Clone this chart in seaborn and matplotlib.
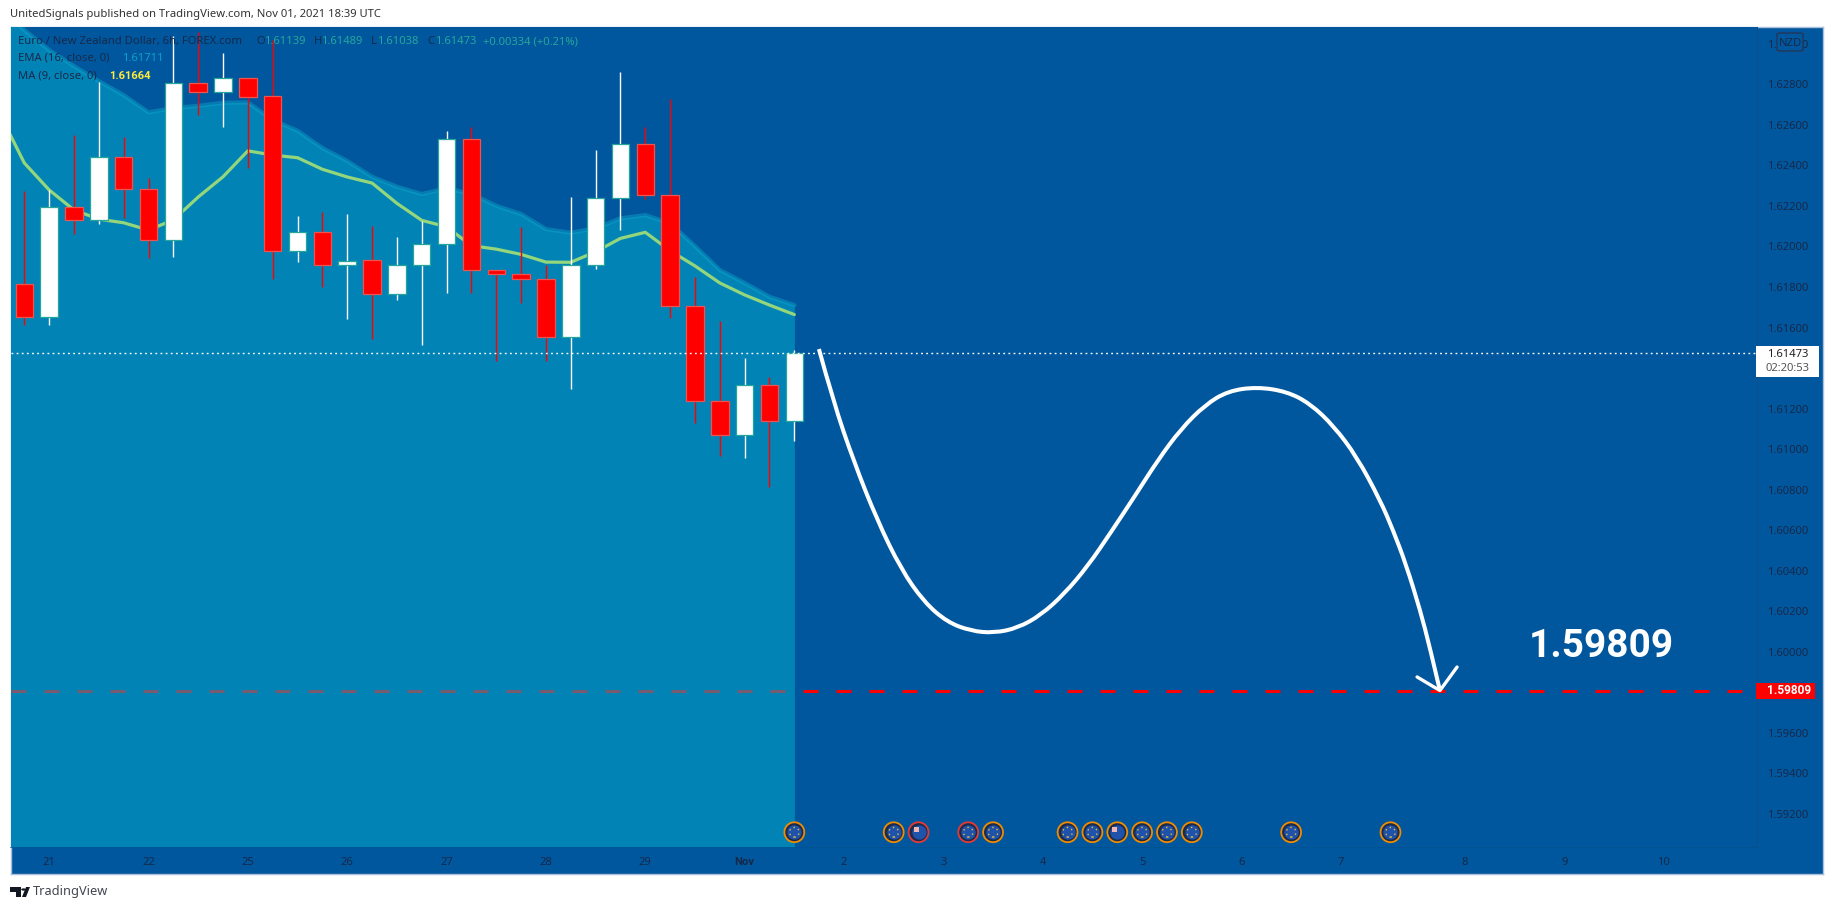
#%%
import numpy as np
import pandas as pd
import seaborn as sns
from matplotlib import pyplot as plt
from matplotlib.path import Path
from matplotlib.patches import Rectangle, FancyBboxPatch, Polygon, Circle, PathPatch

# %%
opens = [1.61813, 1.61650, 1.62193, 1.62129, 1.62440, 1.62282, 1.62030, 1.62805, 1.62763, 1.62830, 1.62741,
         1.61976, 1.62070, 1.61907, 1.61932, 1.61764, 1.61907, 1.62011, 1.62529, 1.61882, 1.61862, 1.61842,
         1.61552, 1.61910, 1.62238, 1.62504, 1.62256, 1.61704, 1.61240, 1.61071, 1.61315, 1.61139]
highs = [1.62272, 1.62279, 1.62550, 1.62813, 1.62540, 1.62338, 1.63038, 1.63060, 1.62956, 1.62830, 1.63019,
         1.62150, 1.62170, 1.62160, 1.62101, 1.62047, 1.62126, 1.62570, 1.62588, 1.61882, 1.62096, 1.61907,
         1.62244, 1.62476, 1.62859, 1.62588, 1.62726, 1.61848, 1.61631, 1.61450, 1.61356, 1.61489]
lows = [1.61613, 1.61613, 1.62063, 1.62112, 1.62142, 1.61945, 1.61950, 1.62649, 1.62591, 1.62389, 1.61841,
        1.61925, 1.61802, 1.61644, 1.61544, 1.61736, 1.61515, 1.61772, 1.61772, 1.61435, 1.61723, 1.61435,
        1.61298, 1.61890, 1.62081, 1.62233, 1.61649, 1.61131, 1.60968, 1.60958, 1.60815, 1.61038]
closes = [1.61650, 1.62193, 1.62129, 1.62440, 1.62282, 1.62030, 1.62805, 1.62763, 1.62830, 1.62739, 1.61976,
          1.62070, 1.61907, 1.61930, 1.61764, 1.61907, 1.62011, 1.62529, 1.61882, 1.61862, 1.61842, 1.61552,
          1.61910, 1.62238, 1.62504, 1.62256, 1.61704, 1.61240, 1.61071, 1.61315, 1.61139, 1.61473]

# first value belongs to the bar just left of the pane
ma9 = [1.62658, 1.62412, 1.62279, 1.62180, 1.62135, 1.62117, 1.62081, 1.62131, 1.62244, 1.62344, 1.62472,
       1.62451, 1.62438, 1.62381, 1.62343, 1.62313, 1.62213, 1.62129, 1.62097, 1.62004, 1.61987, 1.61961,
       1.61923, 1.61922, 1.61974, 1.62040, 1.62070, 1.61979, 1.61904, 1.61820, 1.61761, 1.61711, 1.61664]
ema16 = [1.63186, 1.63068, 1.62969, 1.62890, 1.62816, 1.62747, 1.62662, 1.62683, 1.62694, 1.62709, 1.62711,
         1.62624, 1.62571, 1.62486, 1.62422, 1.62344, 1.62295, 1.62259, 1.62287, 1.62259, 1.62201, 1.62160,
         1.62086, 1.62068, 1.62090, 1.62139, 1.62155, 1.62114, 1.62002, 1.61884, 1.61820, 1.61752, 1.61711]

# hand drawn forecast
curve_bars = [31.99, 32.56, 33.40, 34.33, 35.29, 36.22, 37.15, 38.11, 39.04, 40.00, 40.93, 41.86, 42.82, 43.75,
              44.71, 45.64, 46.56, 47.53, 48.46, 49.63, 50.83, 51.76, 52.72, 53.65, 54.58, 55.10, 55.62, 56.19, 56.59, 56.99]
curve_prices = [1.61494, 1.61238, 1.60937, 1.60651, 1.60409, 1.60246, 1.60147, 1.60103, 1.60093, 1.60118, 1.60182,
                1.60285, 1.60424, 1.60591, 1.60769, 1.60947, 1.61099, 1.61218, 1.61287, 1.61307, 1.61284, 1.61225,
                1.61114, 1.60961, 1.60749, 1.60601, 1.60433, 1.60207, 1.60019, 1.59809]
arrow_bars = [56.07, 56.99, 57.68]
arrow_prices = [1.59876, 1.59809, 1.59925]

target_price = 1.59809
last_price = 1.61473

price_ticks = [1.630, 1.628, 1.626, 1.624, 1.622, 1.620, 1.618, 1.616, 1.614, 1.612, 1.610, 1.608,
               1.606, 1.604, 1.602, 1.600, 1.596, 1.594, 1.592]
time_ticks = [1, 5, 9, 13, 17, 21, 25, 29, 33, 37, 41, 45, 49, 53, 58, 62, 66]
time_labels = ['21', '22', '25', '26', '27', '28', '29', 'Nov', '2', '3', '4', '5', '6', '7', '8', '9', '10']

event_bars = [31, 35, 36, 38, 39, 42, 43, 44, 45, 46, 47, 51, 55]
event_flags = ['EU', 'EU', 'NZ', 'EU', 'EU', 'EU', 'EU', 'NZ', 'EU', 'EU', 'EU', 'EU', 'EU']
event_rings = ['o', 'o', 'r', 'r', 'o', 'o', 'o', 'o', 'o', 'o', 'o', 'o', 'o']

#%%
W, H = 1834, 910
BG = '#01579d'
DARK = '#16294a'
GREEN = '#26a69a'
BOLD = ['Roboto', 'Liberation Sans', 'DejaVu Sans']

sns.set_theme(style='white')
plt.rcParams['font.family'] = ['Noto Sans', 'DejaVu Sans']

def fx(x):
    return x / W

def fy(y):
    return 1 - y / H

def ptext(x, y, s, **kw):
    kw.setdefault('fontsize', 8.1)
    kw.setdefault('color', DARK)
    kw.setdefault('va', 'center')
    return fig.text(fx(x), fy(y), s, zorder=8, **kw)

fig = plt.figure(figsize=(W / 100, H / 100), dpi=100, facecolor='white')

# frame + price/time strips
back = fig.add_axes([fx(10.5), fy(874), (1823 - 10.5) / W, (874 - 27) / H], facecolor=BG)
back.set_xticks([])
back.set_yticks([])
for s in back.spines.values():
    s.set_color('#a9c0dc')
    s.set_linewidth(1)

ax = fig.add_axes([fx(10.5), fy(847), (1757 - 10.5) / W, (847 - 27) / H], facecolor=BG)
ax.set_xlim((10.5 - 24.3) / 24.84, (1757 - 24.3) / 24.84)
ax.set_ylim(1.59037, 1.63083)

# %%
bars = np.arange(len(opens))
lines = pd.DataFrame({'bar': np.arange(-1, len(opens)), 'ma': ma9, 'ema': ema16})
arrow = pd.DataFrame({'bar': arrow_bars, 'price': arrow_prices})

ax.axhline(target_price, color='#ff0000', lw=2.16, ls=(0, (5, 6)), dash_capstyle='butt', zorder=1)

ax.fill_between(lines['bar'], lines['ema'], 1.59037, color='#04a8c9', alpha=0.55, lw=0, zorder=2)
sns.lineplot(data=lines, x='bar', y='ema', ax=ax, color='#0ba8cc', alpha=0.45, linewidth=3, zorder=3)
sns.lineplot(data=lines, x='bar', y='ma', ax=ax, color='#93d67c', linewidth=2.3, zorder=3)

#%%
o = np.array(opens)
c = np.array(closes)
up = c >= o
ax.vlines(bars[up], np.array(lows)[up], np.array(highs)[up], color='white', lw=1, zorder=4)
ax.vlines(bars[~up], np.array(lows)[~up], np.array(highs)[~up], color='#ff0000', lw=1, zorder=4)
ax.bar(bars[up], (c - o)[up], bottom=o[up], width=17.5 / 24.84, color='white', edgecolor=GREEN, linewidth=0.9, zorder=5)
ax.bar(bars[~up], (o - c)[~up], bottom=c[~up], width=17.5 / 24.84, color='#ff0000', edgecolor='#ef5350', linewidth=0.9, zorder=5)

ax.axhline(last_price, color='white', lw=1, ls=(0, (1.3, 2.4)), zorder=6)

# the drawing tool makes a smooth curve, so the read points act as bezier controls
pts = np.column_stack([curve_bars, curve_prices])
verts = [pts[0]]
codes = [Path.MOVETO]
for i in range(1, len(pts) - 1):
    end = pts[i + 1] if i == len(pts) - 2 else (pts[i] + pts[i + 1]) / 2
    verts += [pts[i], end]
    codes += [Path.CURVE3, Path.CURVE3]
ax.add_patch(PathPatch(Path(verts, codes), facecolor='none', edgecolor='white', lw=2.9, capstyle='butt', zorder=7))
sns.lineplot(data=arrow, x='bar', y='price', ax=ax, color='white', linewidth=2.4, sort=False, zorder=7)

ax.text((1601 - 24.3) / 24.84, 1.60024, '1.59809', color='white', fontsize=28, fontweight='bold', family=BOLD,
        ha='center', va='center', zorder=7)

# %%
# calendar events along the bottom
ev_x = np.array(event_bars)
ev_y = np.full(len(ev_x), 0.018)
ring_col = ['#f08c00' if r == 'o' else '#e53935' for r in event_rings]
trans = ax.get_xaxis_transform()
ax.scatter(ev_x, ev_y, s=205, color='#1c2b4d', edgecolor=ring_col, linewidth=1.3, transform=trans, zorder=8)
ax.scatter(ev_x, ev_y, s=105, color='#1f52ab', linewidth=0, transform=trans, zorder=9)
is_eu = np.array(event_flags) == 'EU'
ax.scatter(ev_x[is_eu], ev_y[is_eu], s=48, facecolor='none', edgecolor='#e8c23a', linewidth=1, ls=(0, (1, 2.5)),
           transform=trans, zorder=10)
ax.scatter(ev_x[~is_eu], ev_y[~is_eu], s=60, color='#f0b6b6', linewidth=0,
           marker=[(-1, 0), (0, 0), (0, 1), (-1, 1)], transform=trans, zorder=10)

#%%
ax.set_yticks(price_ticks)
ax.set_yticklabels([f'{p:.5f}' for p in price_ticks])
ax.set_xticks(time_ticks)
ax.set_xticklabels(time_labels)
ax.set_xlabel('')
ax.set_ylabel('')
ax.yaxis.tick_right()
ax.tick_params(axis='y', length=0, pad=7, labelsize=8.1, labelcolor=DARK)
ax.tick_params(axis='x', length=0, pad=7, labelsize=8.1, labelcolor=DARK)
nov = ax.get_xticklabels()[time_labels.index('Nov')]
nov.set_fontweight('bold')
nov.set_family(BOLD)
sns.despine(ax=ax, top=True, left=True, right=False, bottom=False)
ax.spines['right'].set_color('#0d4f8b')
ax.spines['bottom'].set_color('#01508f')
ax.spines['right'].set_linewidth(0.8)
ax.spines['bottom'].set_linewidth(0.5)

# %%
# legend rows
ptext(18, 41.5, 'Euro / New Zealand Dollar, 6h, FOREX.com')
for lab, val, x in [('O', '1.61139', 256), ('H', '1.61489', 313.5), ('L', '1.61038', 371), ('C', '1.61473', 427)]:
    ptext(x, 41.5, lab)
    ptext(x + (8 if lab != 'L' else 6), 41.5, val, color=GREEN)
ptext(483, 41.5, '+0.00334 (+0.21%)', color=GREEN)
ptext(18, 58.5, 'EMA (16, close, 0)')
ptext(122.5, 58.5, '1.61711', color='#0aa2c9')
ptext(18, 76, 'MA (9, close, 0)')
ptext(109.5, 76, '1.61664', color='#ffeb3b', fontweight='bold', family=BOLD)

# price tags
fig.add_artist(Rectangle((fx(1756), fy(699)), 59 / W, 16 / H, transform=fig.transFigure, color='#ff0000', lw=0, zorder=6))
ptext(1767, 691, '1.59809', color='white', fontweight='bold', family=BOLD, fontsize=8.6)
fig.add_artist(Rectangle((fx(1756), fy(377)), 63 / W, 31 / H, transform=fig.transFigure, color='white', lw=0, zorder=6))
ptext(1767, 354.5, '1.61473', color='#222222')
ptext(1766, 368.5, '02:20:53', color='#555555')

# NZD badge
fig.add_artist(FancyBboxPatch((fx(1777), fy(51)), 26 / W, 18 / H, boxstyle='round,pad=0,rounding_size=0.0015',
                              transform=fig.transFigure, facecolor=BG, edgecolor='#22375a', lw=1, zorder=6))
ptext(1790, 43, 'NZD', ha='center')

# header and footer
ptext(10, 15, 'UnitedSignals published on TradingView.com, Nov 01, 2021 18:39 UTC', color='#333333')
ptext(33, 892, 'TradingView', color='#434651', fontsize=9.2)
logo = '#131722'
fig.add_artist(Polygon([(fx(10), fy(887)), (fx(21), fy(887)), (fx(21), fy(897)), (fx(15.5), fy(897)), (fx(15.5), fy(892)), (fx(10), fy(892))],
                       transform=fig.transFigure, color=logo, lw=0, zorder=6))
fig.add_artist(Polygon([(fx(22), fy(897)), (fx(26), fy(887)), (fx(30), fy(887)), (fx(26), fy(897))],
                       transform=fig.transFigure, color=logo, lw=0, zorder=6))
fig.add_artist(Circle((fx(23.5), fy(889.5)), 2.3 / W, transform=fig.transFigure, color=logo, lw=0, zorder=6))

fig.savefig('out.png', dpi=100, facecolor='white')
